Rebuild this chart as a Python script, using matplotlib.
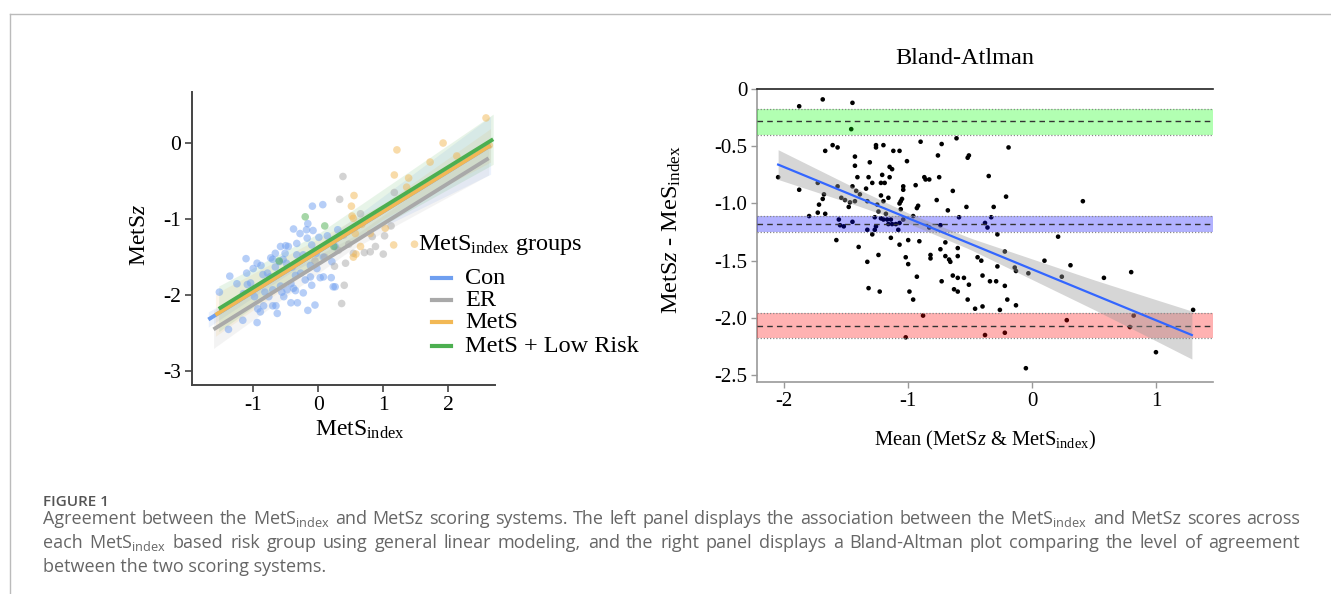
import numpy as np
import matplotlib.pyplot as plt
from matplotlib.lines import Line2D

plt.rcParams['font.family'] = ['Liberation Serif', 'DejaVu Serif']
plt.rcParams['mathtext.fontset'] = 'custom'
plt.rcParams['mathtext.rm'] = 'Liberation Serif'
plt.rcParams['mathtext.it'] = 'Liberation Serif:italic'
plt.rcParams['axes.unicode_minus'] = False

# ---- left panel: MetS_index vs MetSz by group ----
groups = ['Con', 'ER', 'MetS', 'MetS + Low Risk']
group_colors = ['#6f9ff0', '#a9a9a9', '#f2b855', '#4caf50']

con_x = [-1.52, -1.36, -1.11, -1.00, -1.04, -1.09, -1.15, -1.38, -1.16, -0.94, -0.93, -0.89,
         -0.84, -0.70, -0.65, -0.63, -0.76, -0.70, -0.58, -0.56, -0.53, -0.48, -0.42, -0.35,
         -0.32, -0.23, -0.16, -0.05, -0.10, -0.12, 0.03, 0.08, 0.20, 0.23, 0.26, 0.21, 0.08,
         -0.03, -0.10, -0.17, -0.18, -0.08, 0.01, 0.14, -0.33, -0.38, -0.50, -0.51, -0.54,
         -0.66, -0.70, -0.73, -0.85, -0.78, -0.74, -0.66, -0.60, -0.49, -0.40, -0.35, -0.27,
         -0.20, -0.42, -0.38, -0.88, -0.94, -0.09, 0.07, -0.16, 0.30, 0.26, -0.58, -0.33,
         -0.23, -0.12, -0.02, -1.10, -1.25, -0.82, -0.98, -0.46, -0.28]
con_y = [-1.96, -1.75, -1.52, -1.65, -1.84, -1.86, -1.98, -2.45, -2.33, -2.36, -2.18, -2.22,
         -2.14, -2.14, -2.14, -2.24, -2.02, -1.93, -1.88, -1.96, -2.02, -1.93, -2.10, -1.94,
         -2.10, -1.97, -2.20, -2.13, -1.87, -1.76, -1.77, -1.76, -1.77, -1.89, -1.89, -1.56,
         -1.50, -1.45, -1.34, -1.25, -1.14, -1.15, -1.24, -1.22, -1.32, -1.13, -1.35, -1.45,
         -1.53, -1.45, -1.53, -1.51, -1.73, -1.71, -1.76, -1.63, -1.56, -1.58, -1.63, -1.74,
         -1.71, -1.80, -1.85, -1.91, -1.61, -1.58, -0.83, -0.81, -1.06, -1.14, -1.36, -1.36,
         -1.47, -1.47, -1.61, -1.65, -1.71, -1.85, -1.96, -2.02, -1.36, -1.19]

er_x = [0.38, 0.33, 0.65, 0.39, 0.31, 0.42, 0.40, 0.36, 0.83, 0.88, 0.80, 0.71, 1.00,
        1.12, 1.17, 1.02, 0.54, 0.47, -0.05, 0.10, 0.25]
er_y = [-0.44, -0.74, -0.93, -1.21, -1.41, -1.58, -1.87, -2.11, -1.23, -1.36, -1.43, -1.44,
        -1.46, -1.09, -0.65, -1.22, -1.45, -1.33, -1.55, -1.50, -1.62]

mets_x = [2.58, 1.21, 1.92, 1.72, 1.17, 1.39, 1.36, 2.63, 0.55, 0.51, 0.52, 0.54, 0.57,
          0.65, 0.54, 0.58, 1.03, 1.16, 1.48, 0.67, 2.13, 0.80]
mets_y = [0.33, -0.09, 0.00, -0.25, -0.42, -0.46, -0.58, -0.03, -0.69, -0.83, -0.96, -0.99,
          -1.19, -1.36, -1.50, -1.46, -1.12, -1.34, -1.33, -1.07, -0.17, -1.19]

low_x = [-0.20, 0.10, 0.24, -0.60]
low_y = [-0.97, -1.09, -1.36, -1.55]

group_x = [con_x, er_x, mets_x, low_x]
group_y = [con_y, er_y, mets_y, low_y]

# fitted lines (parallel slopes) and confidence half-widths
fit_x0 = [-1.69, -1.61, -1.58, -1.53]
fit_x1 = [2.65, 2.62, 2.65, 2.69]
fit_y0 = [-2.32, -2.45, -2.26, -2.18]
fit_y1 = [-0.03, -0.20, -0.03, 0.05]
band_xc = [-0.40, 0.50, 1.00, 0.00]
band_hw = [[0.10, 0.05, 0.38], [0.25, 0.08, 0.22], [0.28, 0.10, 0.22], [0.30, 0.18, 0.33]]

# ---- right panel: Bland-Altman ----
ba_pts = [
    (-1.88, -0.15), (-1.69, -0.09), (-1.45, -0.12), (-1.46, -0.35), (-2.05, -0.77), (-1.88, -0.88),
    (-1.67, -0.54), (-1.61, -0.49), (-1.57, -0.51), (-1.73, -0.82), (-1.57, -0.85), (-1.43, -0.59),
    (-1.43, -0.67), (-1.41, -0.77), (-1.45, -0.85), (-1.42, -0.89), (-1.54, -0.95), (-1.51, -0.97),
    (-1.47, -0.99), (-1.48, -1.03), (-1.43, -0.98), (-1.39, -0.92), (-1.34, -0.87), (-1.33, -0.98),
    (-1.68, -0.92), (-1.69, -0.96), (-1.72, -1.01), (-1.73, -1.08), (-1.67, -1.09), (-1.80, -1.11),
    (-1.56, -1.14), (-1.55, -1.19), (-1.52, -1.20), (-1.45, -1.16), (-1.27, -1.12), (-1.26, -1.20),
    (-1.33, -1.23), (-1.27, -1.23), (-1.29, -1.27), (-1.26, -0.51), (-1.26, -0.49), (-1.20, -0.49),
    (-1.31, -0.64), (-1.32, -0.77), (-1.29, -0.82), (-1.21, -0.75), (-1.22, -0.82), (-1.19, -0.82),
    (-1.15, -0.77), (-1.15, -0.68), (-1.13, -0.70), (-1.12, -0.54), (-1.07, -0.54), (-1.01, -0.63),
    (-1.22, -0.93), (-1.16, -0.95), (-1.20, -0.98), (-1.25, -1.01), (-1.24, -1.07), (-1.18, -1.09),
    (-1.22, -1.13), (-1.20, -1.14), (-1.17, -1.14), (-1.14, -1.14), (-1.16, -1.18), (-1.13, -1.18),
    (-1.10, -1.18), (-1.07, -1.17), (-1.08, -1.23), (-1.04, -0.85), (-1.04, -0.88), (-1.05, -0.96),
    (-1.06, -0.98), (-1.07, -1.00), (-1.06, -1.05), (-0.96, -1.11), (-1.04, -1.14), (-0.94, -0.84),
    (-0.90, -0.46), (-0.87, -0.77), (-0.86, -0.79), (-0.83, -0.79), (-0.75, -0.77), (-0.76, -0.58),
    (-0.73, -0.48), (-0.93, -1.04), (-0.92, -1.02), (-0.77, -0.97), (-0.74, -1.19), (-0.64, -0.89),
    (-0.68, -1.06), (-0.61, -0.43), (-0.52, -0.60), (-0.51, -0.58), (-0.53, -1.03), (-0.59, -1.12),
    (-0.35, -0.76), (-0.38, -1.17), (-0.36, -1.21), (-0.83, -1.21), (-0.19, -0.51), (-0.21, -0.94),
    (-0.31, -1.03), (0.41, -0.98), (-0.33, -1.12), (-0.28, -1.27), (0.21, -1.29), (-1.58, -1.32),
    (-1.40, -1.38), (-1.33, -1.51), (-1.24, -1.45), (-1.14, -1.30), (-1.07, -1.36), (-1.00, -1.32),
    (-0.91, -1.33), (-1.02, -1.47), (-1.00, -1.53), (-1.32, -1.74), (-1.23, -1.77), (-0.99, -1.77),
    (-0.96, -1.84), (-0.93, -1.64), (-0.88, -1.98), (-1.02, -2.17), (-0.82, -1.45), (-0.82, -1.48),
    (-0.74, -1.40), (-0.70, -1.34), (-0.70, -1.46), (-0.67, -1.49), (-0.66, -1.51), (-0.60, -1.39),
    (-0.60, -1.46), (-0.73, -1.68), (-0.64, -1.63), (-0.60, -1.65), (-0.55, -1.65), (-0.63, -1.75),
    (-0.60, -1.77), (-0.51, -1.71), (-0.52, -1.84), (-0.46, -1.92), (-0.40, -1.90), (-0.44, -1.47),
    (-0.41, -1.50), (-0.40, -1.63), (-0.34, -1.68), (-0.38, -2.15), (-0.22, -1.42), (-0.28, -1.55),
    (-0.29, -1.68), (-0.22, -1.72), (-0.20, -1.84), (-0.13, -1.89), (-0.26, -1.93), (-0.22, -2.13),
    (-0.05, -2.44), (-0.14, -1.56), (-0.13, -1.59), (-0.03, -1.61), (0.10, -1.50), (0.24, -1.64),
    (0.31, -1.54), (0.28, -2.02), (0.58, -1.65), (0.80, -1.60), (0.82, -1.98), (0.79, -2.08),
    (1.00, -2.30), (1.30, -1.93),
]
ba_mean = [p[0] for p in ba_pts]
ba_diff = [p[1] for p in ba_pts]

ba_fit_x = [-2.05, 1.29]
ba_fit_y = [-0.66, -2.15]
ci_x = [-2.05, -1.5, -1.0, -0.5, 0.0, 0.5, 1.0, 1.29]
ci_hw = [0.13, 0.08, 0.045, 0.05, 0.09, 0.13, 0.18, 0.21]

loa_mid = [-0.28, -1.18, -2.07]
loa_lo = [-0.40, -1.25, -2.18]
loa_hi = [-0.17, -1.11, -1.96]
loa_col = ['#00ff00', '#0000ff', '#ff0000']

W, H = 1331, 594
fig = plt.figure(figsize=(W / 100, H / 100), dpi=100)

# ---------- left ----------
ax1 = fig.add_axes([0.1443, 0.352, 0.2277, 0.493])
for i in range(len(groups)):
    ax1.scatter(group_x[i], group_y[i], s=30, color=group_colors[i], alpha=0.5,
                edgecolors='none', zorder=2)
for i in range(len(groups)):
    xs = np.linspace(fit_x0[i], fit_x1[i], 60)
    ys = np.interp(xs, [fit_x0[i], fit_x1[i]], [fit_y0[i], fit_y1[i]])
    hw = np.interp(xs, [fit_x0[i], band_xc[i], fit_x1[i]], band_hw[i])
    ax1.fill_between(xs, ys - hw, ys + hw, color=group_colors[i], alpha=0.13,
                     linewidth=0, zorder=1)
for i in range(len(groups)):
    ax1.plot([fit_x0[i], fit_x1[i]], [fit_y0[i], fit_y1[i]], color=group_colors[i],
             lw=2.8, zorder=3, solid_capstyle='butt')
ax1.set_xlim(-1.94, 2.72)
ax1.set_ylim(-3.18, 0.67)
ax1.set_xticks([-1, 0, 1, 2])
ax1.set_yticks([0, -1, -2, -3])
ax1.set_xticklabels(['-1', '0', '1', '2'])
ax1.set_yticklabels(['0', '-1', '-2', '-3'])
for s in ['top', 'right']:
    ax1.spines[s].set_visible(False)
for s in ['left', 'bottom']:
    ax1.spines[s].set_color('#444444')
    ax1.spines[s].set_linewidth(1.4)
ax1.tick_params(labelsize=15.5, length=5, width=1.2, color='#444444', pad=3)

fig.text(0.105, 0.604, r'MetS$\mathit{z}$', rotation=90, ha='center', va='center', fontsize=17)
fig.text(0.2705, 0.276, r'MetS$\mathregular{_{index}}$', ha='center', va='center', fontsize=17)

# legend drawn by hand so the spacing follows the reference
fig.text(418 / W, 1 - 245 / H, r'MetS$\mathregular{_{index}}$ groups', ha='left', va='center',
         fontsize=17.5)
leg_y = [278, 300, 322, 346]
for i in range(len(groups)):
    yy = 1 - leg_y[i] / H
    fig.add_artist(Line2D([432 / W, 451 / W], [yy, yy], color=group_colors[i], lw=3))
    fig.text(465 / W, yy, groups[i], ha='left', va='center', fontsize=17.5)

# ---------- right ----------
ax2 = fig.add_axes([0.5688, 0.357, 0.3425, 0.493])
ax2.scatter(ba_mean, ba_diff, s=11, color='black', zorder=2, edgecolors='none')
for m, lo, hi, c in zip(loa_mid, loa_lo, loa_hi, loa_col):
    ax2.axhspan(lo, hi, color=c, alpha=0.3, linewidth=0, zorder=3)
    ax2.axhline(lo, color='#888888', lw=0.9, ls=(0, (1, 1.5)), zorder=4)
    ax2.axhline(hi, color='#888888', lw=0.9, ls=(0, (1, 1.5)), zorder=4)
    ax2.axhline(m, color='#333333', lw=1.0, ls=(0, (4, 3)), zorder=4)
cx = np.linspace(ba_fit_x[0], ba_fit_x[1], 80)
cy = np.interp(cx, ba_fit_x, ba_fit_y)
chw = np.interp(cx, ci_x, ci_hw)
ax2.fill_between(cx, cy - chw, cy + chw, color='#999999', alpha=0.4, linewidth=0, zorder=5)
ax2.plot(ba_fit_x, ba_fit_y, color='#3366ff', lw=1.6, zorder=6)
ax2.set_xlim(-2.22, 1.46)
ax2.set_ylim(-2.56, 0)
ax2.set_xticks([-2, -1, 0, 1])
ax2.set_xticklabels(['-2', '-1', '0', '1'])
ax2.set_yticks([0, -0.5, -1.0, -1.5, -2.0, -2.5])
ax2.set_yticklabels(['0', '-0.5', '-1.0', '-1.5', '-2.0', '-2.5'])
ax2.spines['right'].set_visible(False)
ax2.spines['top'].set_color('#222222')
ax2.spines['top'].set_linewidth(1.2)
for s in ['left', 'bottom']:
    ax2.spines[s].set_color('#999999')
    ax2.spines[s].set_linewidth(1.2)
ax2.tick_params(labelsize=15, length=4, width=1.0, color='#999999', pad=3)

fig.text(0.725, 0.902, 'Bland-Atlman', ha='center', va='center', fontsize=17.5)
fig.text(0.505, 0.614, r'MetS$\mathit{z}$ - MeS$\mathregular{_{index}}$', rotation=90,
         ha='center', va='center', fontsize=17.6)
fig.text(0.740, 0.259, r'Mean (MetS$\mathit{z}$ & MetS$\mathregular{_{index}}$)',
         ha='center', va='center', fontsize=14.8)

# ---------- caption + frame ----------
fig.add_artist(Line2D([0.0075, 1.0], [0.976, 0.976], color='#bbbbbb', lw=1.0))
fig.add_artist(Line2D([0.0075, 0.0075], [0.0, 0.976], color='#bbbbbb', lw=1.0))

cap_font = dict(family=['Open Sans', 'DejaVu Sans'], color='#666666', fontsize=13.0)
fig.text(43 / W, 1 - 502 / H, 'FIGURE 1', va='center', ha='left',
         family=['Open Sans', 'DejaVu Sans'], color='#555555', fontsize=11, weight='semibold')
cap_lines = [
    r'Agreement between the MetS$\mathregular{_{index}}$ and MetSz scoring systems. The left panel '
    r'displays the association between the MetS$\mathregular{_{index}}$ and MetSz scores across',
    r'each MetS$\mathregular{_{index}}$ based risk group using general linear modeling, and the right '
    r'panel displays a Bland-Altman plot comparing the level of agreement',
    'between the two scoring systems.',
]
cap_y = [519, 543, 567]
cap_left, cap_right = 43, 1300

fig.canvas.draw()
renderer = fig.canvas.get_renderer()
for k, line in enumerate(cap_lines):
    yy = 1 - cap_y[k] / H
    if k == len(cap_lines) - 1:
        fig.text(cap_left / W, yy, line, va='center', ha='left', **cap_font)
        continue
    # justify: spread the words across the full caption width
    words = line.split(' ')
    texts = [fig.text(0, yy, w, va='center', ha='left', **cap_font) for w in words]
    widths = [t.get_window_extent(renderer).width for t in texts]
    gap = (cap_right - cap_left - sum(widths)) / (len(words) - 1)
    xpos = cap_left
    for t, w in zip(texts, widths):
        t.set_x(xpos / W)
        xpos += w + gap

fig.savefig('out.png', dpi=100)
